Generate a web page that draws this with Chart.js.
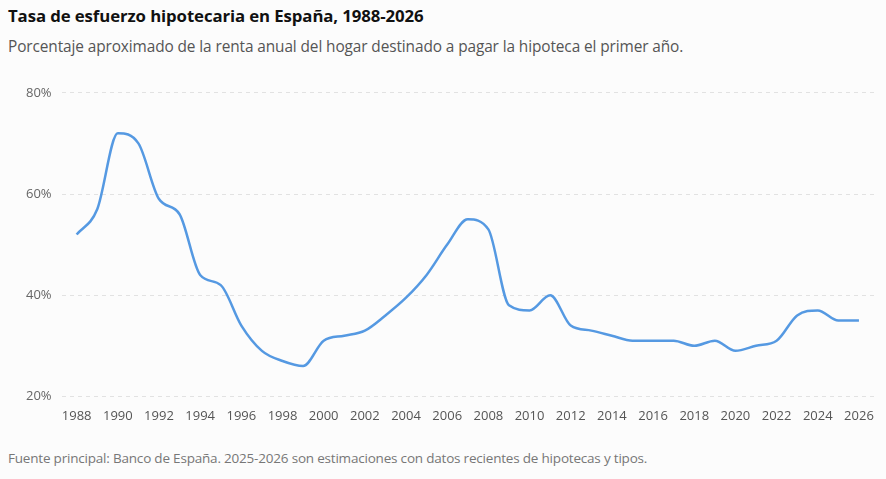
<!DOCTYPE html>
<html lang="es">
<head>
<meta charset="utf-8">
<script src="https://cdn.jsdelivr.net/npm/chart.js@4.4.1/dist/chart.umd.min.js"></script>
<style>
  html, body { margin: 0; padding: 0; background: #fcfcfc; }
  body { width: 886px; height: 479px; position: relative; overflow: hidden; font-family: "Open Sans", "Noto Sans", sans-serif; }
  .title { position: absolute; left: 8px; top: 4px; font-size: 16.8px; font-weight: 700; color: #111; letter-spacing: -0.1px; }
  .subtitle { position: absolute; left: 8px; top: 36px; font-size: 15.4px; color: #555; letter-spacing: -0.1px; }
  .source { position: absolute; left: 8px; top: 449px; font-size: 13.5px; color: #777; letter-spacing: -0.2px; }
  .wrap { position: absolute; left: 0; top: 75px; width: 886px; height: 353px; }
</style>
</head>
<body>
<div class="title">Tasa de esfuerzo hipotecaria en España, 1988-2026</div>
<div class="subtitle">Porcentaje aproximado de la renta anual del hogar destinado a pagar la hipoteca el primer año.</div>
<div class="wrap"><canvas id="chart"></canvas></div>
<div class="source">Fuente principal: Banco de España. 2025-2026 son estimaciones con datos recientes de hipotecas y tipos.</div>

<script>
// años y tasa de esfuerzo (%)
const years = [1988,1989,1990,1991,1992,1993,1994,1995,1996,1997,1998,1999,2000,2001,2002,2003,2004,2005,2006,2007,
               2008,2009,2010,2011,2012,2013,2014,2015,2016,2017,2018,2019,2020,2021,2022,2023,2024,2025,2026];
const esfuerzo = [52,57,72,70,59,56,44,42,34,29,27,26,31,32,33,36,39.5,44,50,55,
                  53,38,37,40,34,33,32,31,31,31,30,31,29,30,31,36,37,35,35];
const xTicks = [1988,1990,1992,1994,1996,1998,2000,2002,2004,2006,2008,2010,2012,2014,2016,2018,2020,2022,2024,2026];
const yTicks = [20,40,60,80];

const points = years.map((y, i) => ({ x: y, y: esfuerzo[i] }));

new Chart(document.getElementById('chart'), {
  type: 'line',
  data: {
    datasets: [{
      label: 'Tasa de esfuerzo',
      data: points,
      borderColor: '#5599e2',
      borderWidth: 2.5,
      pointRadius: 0,
      cubicInterpolationMode: 'monotone',
      fill: false
    }]
  },
  options: {
    responsive: true,
    maintainAspectRatio: false,
    animation: false,
    layout: { padding: { left: 16, right: 11, top: 0, bottom: 0 } },
    plugins: { legend: { display: false }, tooltip: { enabled: false } },
    scales: {
      x: {
        type: 'linear',
        min: 1987.27,
        max: 2026.78,
        afterBuildTicks: axis => { axis.ticks = xTicks.map(v => ({ value: v })); },
        grid: { display: false },
        border: { display: false },
        ticks: { color: '#555', font: { size: 13, family: 'Open Sans' }, padding: 4, maxRotation: 0, autoSkip: false,
                 callback: v => String(v) }
      },
      y: {
        min: 20,
        max: 80,
        afterBuildTicks: axis => { axis.ticks = yTicks.map(v => ({ value: v })); },
        grid: { color: '#e2e2e2', lineWidth: 1, drawTicks: false },
        border: { display: false, dash: [4, 4] },
        ticks: { color: '#666', font: { size: 13, family: 'Open Sans' }, padding: 10, callback: v => v + '%' }
      }
    }
  }
});
</script>
</body>
</html>
